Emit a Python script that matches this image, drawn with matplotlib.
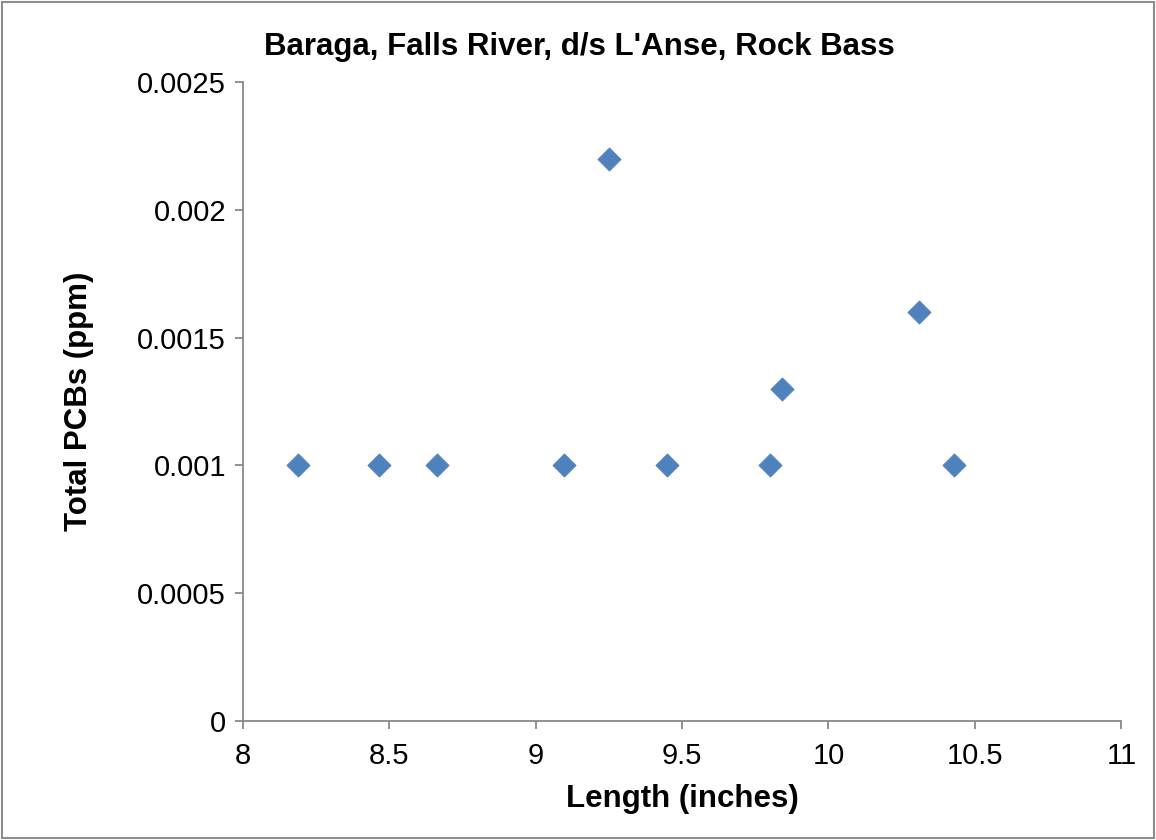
import matplotlib
matplotlib.use("Agg")
import matplotlib.pyplot as plt
from matplotlib.patches import Rectangle

# data
length_in = [8.19, 8.465, 8.663, 9.097, 9.25, 9.449, 9.80, 9.84, 10.31, 10.43]
pcb_ppm = [0.001, 0.001, 0.001, 0.001, 0.0022, 0.001, 0.001, 0.0013, 0.0016, 0.001]

x_ticks = [8, 8.5, 9, 9.5, 10, 10.5, 11]
x_labels = ["8", "8.5", "9", "9.5", "10", "10.5", "11"]
y_ticks = [0, 0.0005, 0.001, 0.0015, 0.002, 0.0025]
y_labels = ["0", "0.0005", "0.001", "0.0015", "0.002", "0.0025"]

plt.rcParams["font.family"] = ["Liberation Sans", "DejaVu Sans"]

fig = plt.figure(figsize=(11.56, 8.4), dpi=100)
ax = fig.add_axes([0.210, 0.1417, 0.760, 0.7607])

ax.scatter(length_in, pcb_ppm, marker="D", s=140, color="#4F81BD",
           edgecolors="#4A7DBA", linewidths=0.5, zorder=3)

ax.set_xlim(8, 11)
ax.set_ylim(0, 0.0025)
ax.set_xticks(x_ticks)
ax.set_xticklabels(x_labels)
ax.set_yticks(y_ticks)
ax.set_yticklabels(y_labels)

for side in ("top", "right"):
    ax.spines[side].set_visible(False)
for side in ("left", "bottom"):
    ax.spines[side].set_color("#888888")
    ax.spines[side].set_linewidth(1.3)
ax.tick_params(axis="both", direction="out", length=6, width=1.3,
               color="#888888", labelsize=21)
ax.tick_params(axis="x", pad=9)
ax.tick_params(axis="y", pad=6)

ax.set_xlabel("Length (inches)", fontsize=22.5, fontweight="bold", labelpad=10)
ax.set_ylabel("Total PCBs (ppm)", fontsize=22.5, fontweight="bold", labelpad=31)
fig.text(0.501, 0.944, "Baraga, Falls River, d/s L'Anse, Rock Bass",
         ha="center", va="center", fontsize=22.5, fontweight="bold")

# thin grey border round the whole chart
fig.patches.append(Rectangle((0.002, 0.002), 0.996, 0.996, transform=fig.transFigure,
                             fill=False, edgecolor="#8c8c8c", linewidth=1.5))

fig.savefig("out.png", dpi=100)
